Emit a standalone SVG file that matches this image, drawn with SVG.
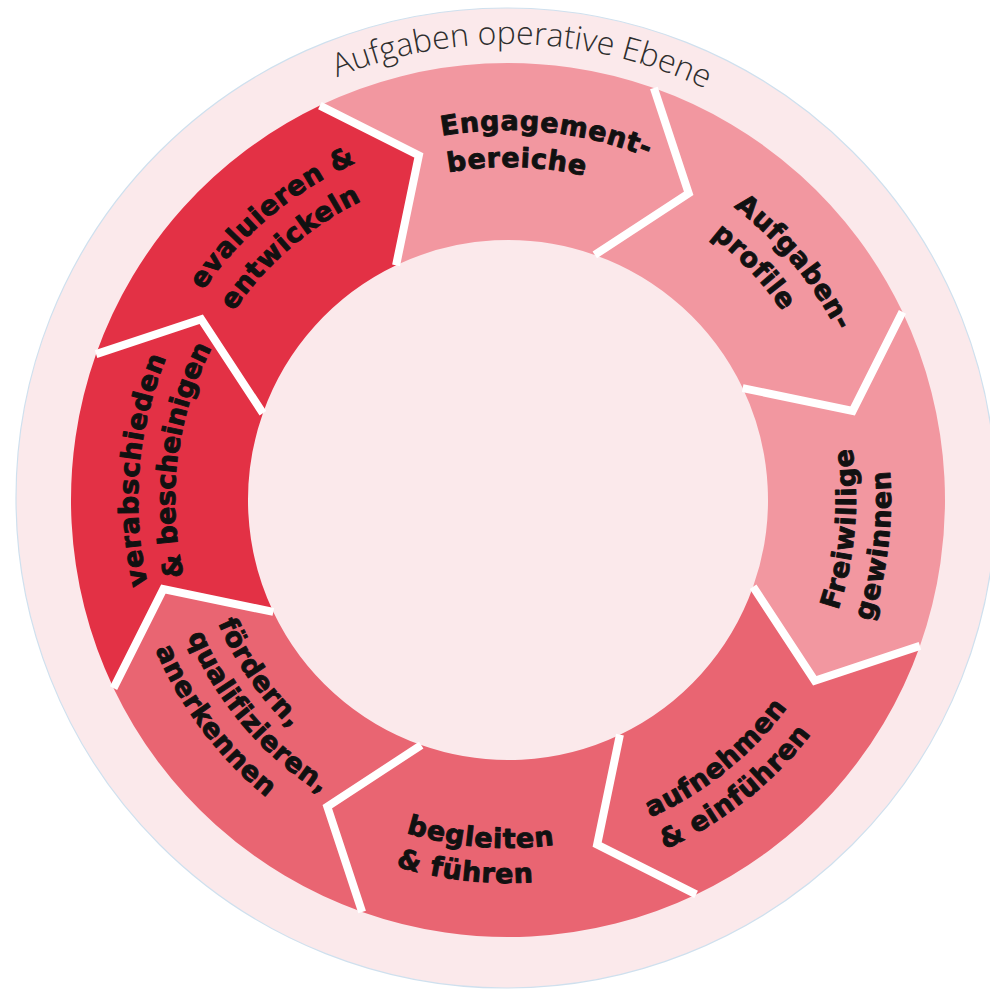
<svg xmlns="http://www.w3.org/2000/svg" width="990" height="991" viewBox="0 0 990 991">
<defs>
<style>
.bg{fill:#fbe9eb;stroke:#cfe0ee;stroke-width:1.2}
.light{fill:#f297a0}
.mid{fill:#e96572}
.dark{fill:#e33145}
.sep{fill:none;stroke:#ffffff;stroke-width:8;stroke-linejoin:miter;stroke-miterlimit:10}
.lbl{font-family:"DejaVu Sans","Liberation Sans",sans-serif;font-weight:bold;font-size:27px;letter-spacing:0.7px;fill:#111111;stroke:#111111;stroke-width:0.9;stroke-linejoin:round}
.tight{letter-spacing:0px}
.title{font-family:"Open Sans","Liberation Sans",sans-serif;font-weight:300;font-size:32px;fill:#2e2e2e}
</style>
<path id="cw456" d="M456 0A456 456 0 0 1 -456 0A456 456 0 0 1 456 0"/>
<path id="cw370" d="M370 0A370 370 0 0 1 -370 0A370 370 0 0 1 370 0"/>
<path id="cw333" d="M333 0A333 333 0 0 1 -333 0A333 333 0 0 1 333 0"/>
<path id="ccw315" d="M315 0A315 315 0 0 0 -315 0A315 315 0 0 0 315 0"/>
<path id="ccw348" d="M348 0A348 348 0 0 0 -348 0A348 348 0 0 0 348 0"/>
<path id="ccw383" d="M383 0A383 383 0 0 0 -383 0A383 383 0 0 0 383 0"/>
</defs>
<rect width="990" height="991" fill="#ffffff"/>
<circle class="bg" cx="506" cy="498" r="490"/>

<g id="title" transform="translate(508 500) rotate(-112)">
<text class="title"><textPath href="#cw456">Aufgaben operative Ebene</textPath></text>
</g>

<g id="node-engagement">
<path class="light" d="M319.87 105.57A437 437 0 0 1 653.88 88.07L688.68 193.26L594.79 254.91A260 260 0 0 0 396.07 265.33L418.86 155.34Z"/>
<g transform="translate(508 500) rotate(-100.3)">
<text class="lbl"><textPath href="#cw370">Engagement-</textPath></text>
<text class="lbl"><textPath href="#cw333">bereiche</textPath></text>
</g>
</g>

<g id="node-aufgabenprofile">
<path class="light" d="M653.88 88.07A437 437 0 0 1 902.43 311.87L852.66 410.86L742.67 388.07A260 260 0 0 0 594.79 254.91L688.68 193.26Z"/>
<g transform="translate(508 500) rotate(-52.4)">
<text class="lbl"><textPath href="#cw370">Aufgaben-</textPath></text>
<text class="lbl"><textPath href="#cw333">profile</textPath></text>
</g>
</g>

<g id="node-freiwillige">
<path class="light" d="M902.43 311.87A437 437 0 0 1 919.93 645.88L814.74 680.68L753.09 586.79A260 260 0 0 0 742.67 388.07L852.66 410.86Z"/>
<g transform="translate(508 500) rotate(18.5)">
<text class="lbl"><textPath href="#ccw348">Freiwillige</textPath></text>
<text class="lbl"><textPath href="#ccw383">gewinnen</textPath></text>
</g>
</g>

<g id="node-aufnehmen">
<path class="mid" d="M919.93 645.88A437 437 0 0 1 696.13 894.43L597.14 844.66L619.93 734.67A260 260 0 0 0 753.09 586.79L814.74 680.68Z"/>
<g transform="translate(508 500) rotate(65.8)">
<text class="lbl"><textPath href="#ccw348">aufnehmen</textPath></text>
<text class="lbl"><textPath href="#ccw383">&amp; einführen</textPath></text>
</g>
</g>

<g id="node-begleiten">
<path class="mid" d="M696.13 894.43A437 437 0 0 1 362.12 911.93L327.32 806.74L421.21 745.09A260 260 0 0 0 619.93 734.67L597.14 844.66Z"/>
<g transform="translate(508 500) rotate(107)">
<text class="lbl"><textPath href="#ccw348">begleiten</textPath></text>
<text class="lbl"><textPath href="#ccw383">&amp; führen</textPath></text>
</g>
</g>

<g id="node-foerdern">
<path class="mid" d="M362.12 911.93A437 437 0 0 1 113.57 688.13L163.34 589.14L273.33 611.93A260 260 0 0 0 421.21 745.09L327.32 806.74Z"/>
<g transform="translate(508 500) rotate(157)">
<text class="lbl"><textPath href="#ccw315">fördern,</textPath></text>
<text class="lbl"><textPath href="#ccw348">qualifizieren,</textPath></text>
<text class="lbl"><textPath href="#ccw383">anerkennen</textPath></text>
</g>
</g>

<g id="node-verabschieden">
<path class="dark" d="M113.57 688.13A437 437 0 0 1 96.07 354.12L201.26 319.32L262.91 413.21A260 260 0 0 0 273.33 611.93L163.34 589.14Z"/>
<g transform="translate(508 500) rotate(166.8)">
<text class="lbl"><textPath href="#cw370">verabschieden</textPath></text>
<text class="lbl tight"><textPath href="#cw333">&amp; bescheinigen</textPath></text>
</g>
</g>

<g id="node-evaluieren">
<path class="dark" d="M96.07 354.12A437 437 0 0 1 319.87 105.57L418.86 155.34L396.07 265.33A260 260 0 0 0 262.91 413.21L201.26 319.32Z"/>
<g transform="translate(508 500) rotate(-145.5)">
<text class="lbl"><textPath href="#cw370">evaluieren &amp;</textPath></text>
<text class="lbl"><textPath href="#cw333">entwickeln</textPath></text>
</g>
</g>

<g id="connectors">
<polyline class="sep" points="319.87,105.57 418.86,155.34 396.07,265.33"/>
<polyline class="sep" points="653.88,88.07 688.68,193.26 594.79,254.91"/>
<polyline class="sep" points="902.43,311.87 852.66,410.86 742.67,388.07"/>
<polyline class="sep" points="919.93,645.88 814.74,680.68 753.09,586.79"/>
<polyline class="sep" points="696.13,894.43 597.14,844.66 619.93,734.67"/>
<polyline class="sep" points="362.12,911.93 327.32,806.74 421.21,745.09"/>
<polyline class="sep" points="113.57,688.13 163.34,589.14 273.33,611.93"/>
<polyline class="sep" points="96.07,354.12 201.26,319.32 262.91,413.21"/>
</g>
</svg>
